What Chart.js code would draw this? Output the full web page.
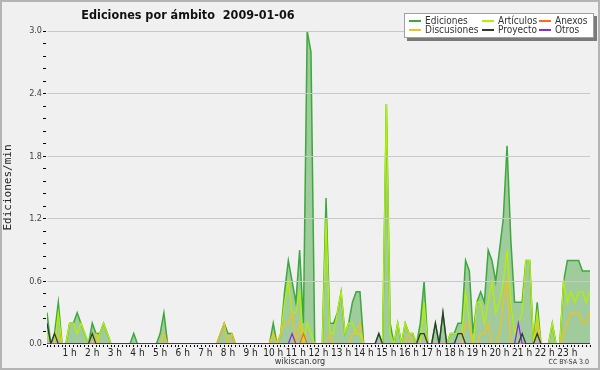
<!DOCTYPE html>
<html>
<head>
<meta charset="utf-8">
<script src="https://cdn.jsdelivr.net/npm/chart.js@4.4.1/dist/chart.umd.min.js"></script>
<style>
  html, body { margin: 0; padding: 0; background: #f0f0f0; }
  #marco { position: relative; width: 600px; height: 370px; overflow: hidden; }
  #grafico { position: absolute; left: 0; top: 0; display: block; }
  .cond { font-family: "DejaVu Sans Condensed", "Liberation Sans Narrow", "DejaVu Sans", sans-serif; }
  #titulo { position: absolute; left: 0; top: 7px; width: 376px; line-height: 16px; text-align: center;
            font-weight: bold; font-size: 12.5px; color: #111; white-space: pre; }
  #leyenda { position: absolute; left: 404px; top: 13px; width: 190px; height: 25px; box-sizing: border-box;
             background: #fff; border: 1px solid #a0a0a0; box-shadow: 3px 3px 0 #7a7a7a; }
  #leyenda .muestra { position: absolute; width: 12px; height: 2px; }
  #leyenda .nombre { position: absolute; font-size: 10px; line-height: 10px; color: #333; white-space: nowrap; }
  #fuente { position: absolute; left: 250px; width: 100px; top: 355px; line-height: 12px; text-align: center;
            font-size: 9px; color: #333; }
  #licencia { position: absolute; right: 11px; top: 358px; line-height: 8px; font-size: 7px; color: #333; }
  #borde { position: absolute; left: 0; top: 0; width: 600px; height: 370px; box-sizing: border-box;
           border: 2px solid #b4b4b4; pointer-events: none; }
</style>
</head>
<body>
<div id="marco">
  <canvas id="grafico" width="600" height="370"></canvas>
  <div id="titulo" class="cond">Ediciones por ámbito  2009-01-06</div>
  <div id="leyenda" class="cond"></div>
  <div id="fuente" class="cond">wikiscan.org</div>
  <div id="licencia" class="cond">CC BY-SA 3.0</div>
  <div id="borde"></div>
</div>
<script>
// one point every 10 minutes, 00:00 .. 24:00 (145 points), edits per minute
var ediciones = [
  .3, 0, .1, .4, 0, 0,      .2, .2, .3, .2, .1, 0,     .2, .1, .1, .2, .1, 0,
  0, 0, 0, 0, 0, .1,        0, 0, 0, 0, 0, 0,          .1, .3, 0, 0, 0, 0,
  0, 0, 0, 0, 0, 0,         0, 0, 0, 0, .1, .2,        .1, .1, 0, 0, 0, 0,
  0, 0, 0, 0, 0, 0,         .2, 0, .1, .5, .8, .6,     .4, .9, .2, 3.0, 2.8, 0,
  0, 0, 1.4, .2, .2, .3,    .5, .1, .2, .4, .5, .5,    0, 0, 0, 0, .1, 0,
  2.3, .2, 0, .2, 0, .2,    .1, .1, 0, .2, .6, 0,      0, .2, 0, .3, 0, .1,
  .1, .2, .2, .8, .7, .1,   .4, .5, .4, .9, .8, .6,    .9, 1.2, 1.9, 1.0, .4, .4,
  .4, .8, .8, 0, .4, 0,     0, 0, .2, 0, 0, .6,        .8, .8, .8, .8, .7, .7,
  .7
];
var articulos = [
  .1, 0, 0, .3, 0, 0,       .2, .2, .1, .2, .1, 0,     .1, 0, .1, .2, .1, 0,
  0, 0, 0, 0, 0, 0,         0, 0, 0, 0, 0, 0,          0, 0, 0, 0, 0, 0,
  0, 0, 0, 0, 0, 0,         0, 0, 0, 0, 0, 0,          0, 0, 0, 0, 0, 0,
  0, 0, 0, 0, 0, 0,         .1, 0, .1, .4, .6, .3,     .3, .5, 0, .2, .1, 0,
  0, 0, 1.2, .1, .1, .3,    .5, .1, .2, .2, .1, .1,    0, 0, 0, 0, 0, 0,
  2.3, .1, 0, .2, 0, .2,    .1, .1, 0, 0, .4, 0,       0, 0, 0, 0, 0, .1,
  .1, .1, .1, .5, .2, 0,    .4, .4, .2, .4, .6, .3,    .4, .6, .9, .4, .1, .2,
  .3, .8, .8, 0, .3, 0,     0, 0, .2, 0, 0, .6,        .4, .5, .4, .5, .5, .4,
  .5
];
var anexos = [
  0, 0, 0, 0, 0, 0,         0, 0, 0, 0, 0, 0,          0, 0, 0, 0, 0, 0,
  0, 0, 0, 0, 0, 0,         0, 0, 0, 0, 0, 0,          0, 0, 0, 0, 0, 0,
  0, 0, 0, 0, 0, 0,         0, 0, 0, 0, 0, 0,          0, 0, 0, 0, 0, 0,
  0, 0, 0, 0, 0, 0,         0, 0, 0, 0, 0, 0,          0, 0, .1, 0, 0, 0,
  0, 0, 0, 0, 0, 0,         0, 0, 0, 0, 0, 0,          0, 0, 0, 0, 0, 0,
  0, 0, 0, 0, 0, 0,         0, 0, 0, 0, 0, 0,          0, 0, 0, 0, 0, 0,
  0, 0, 0, 0, 0, 0,         0, 0, 0, 0, 0, 0,          0, 0, 0, 0, 0, 0,
  0, 0, 0, 0, 0, 0,         0, 0, 0, 0, 0, 0,          0, 0, 0, 0, 0, 0,
  0
];
var discusiones = [
  0, 0, 0, .1, 0, 0,        0, 0, 0, 0, 0, 0,          0, .1, 0, 0, 0, 0,
  0, 0, 0, 0, 0, 0,         0, 0, 0, 0, 0, 0,          0, .1, 0, 0, 0, 0,
  0, 0, 0, 0, 0, 0,         0, 0, 0, 0, .1, .2,        0, .1, 0, 0, 0, 0,
  0, 0, 0, 0, 0, 0,         .1, 0, .1, .2, .2, .3,     0, .2, 0, 0, 0, 0,
  0, 0, 0, .1, 0, 0,        0, 0, 0, .1, .1, .2,       0, 0, 0, 0, 0, 0,
  0, 0, 0, 0, 0, 0,         .1, 0, 0, .1, .1, 0,       0, 0, 0, 0, 0, 0,
  0, 0, 0, .2, .2, 0,       0, .1, .1, .2, 0, 0,       .1, .4, .6, 0, 0, 0,
  0, 0, 0, 0, .2, 0,        0, 0, 0, 0, 0, .1,         .2, .3, .3, .3, .2, .2,
  .3
];
var proyecto = [
  .2, 0, .1, 0, 0, 0,       0, 0, 0, 0, 0, 0,          .1, 0, 0, 0, 0, 0,
  0, 0, 0, 0, 0, 0,         0, 0, 0, 0, 0, 0,          0, 0, 0, 0, 0, 0,
  0, 0, 0, 0, 0, 0,         0, 0, 0, 0, 0, 0,          0, 0, 0, 0, 0, 0,
  0, 0, 0, 0, 0, 0,         0, 0, 0, 0, 0, 0,          0, 0, 0, 0, 0, 0,
  0, 0, 0, 0, 0, 0,         0, 0, 0, 0, 0, 0,          0, 0, 0, 0, .1, 0,
  0, 0, 0, 0, 0, 0,         0, 0, 0, .1, .1, 0,        0, .2, 0, .3, 0, 0,
  0, .1, .1, 0, 0, 0,       0, 0, 0, 0, 0, 0,          0, 0, 0, 0, 0, 0,
  .1, 0, 0, 0, .1, 0,       0, 0, 0, 0, 0, 0,          0, 0, 0, 0, 0, 0,
  0
];
var otros = [
  0, 0, 0, 0, 0, 0,         0, 0, 0, 0, 0, 0,          0, 0, 0, 0, 0, 0,
  0, 0, 0, 0, 0, 0,         0, 0, 0, 0, 0, 0,          0, 0, 0, 0, 0, 0,
  0, 0, 0, 0, 0, 0,         0, 0, 0, 0, 0, 0,          0, 0, 0, 0, 0, 0,
  0, 0, 0, 0, 0, 0,         0, 0, 0, 0, 0, .1,         0, 0, 0, 0, 0, 0,
  0, 0, 0, 0, 0, 0,         0, 0, 0, 0, 0, 0,          0, 0, 0, 0, 0, 0,
  0, 0, 0, 0, 0, 0,         0, 0, 0, 0, 0, 0,          0, 0, 0, 0, 0, 0,
  0, 0, 0, 0, 0, 0,         0, 0, 0, 0, 0, 0,          0, 0, 0, 0, 0, .2,
  0, 0, 0, 0, 0, 0,         0, 0, 0, 0, 0, 0,          0, 0, 0, 0, 0, 0,
  0
];
var tickLabels = ['1 h', '2 h', '3 h', '4 h', '5 h', '6 h', '7 h', '8 h', '9 h', '10 h', '11 h', '12 h',
                  '13 h', '14 h', '15 h', '16 h', '17 h', '18 h', '19 h', '20 h', '21 h', '22 h', '23 h'];

var narrow = '"DejaVu Sans Condensed", "Liberation Sans Narrow", "DejaVu Sans", sans-serif';

function puntos(arr) {
  return arr.map(function (v, i) { return { x: i, y: v }; });
}

function serie(label, arr, color, order) {
  return {
    label: label,
    data: puntos(arr),
    borderColor: color,
    backgroundColor: color,
    borderWidth: 1.3,
    fill: false,
    order: order
  };
}

var series = [
  {
    label: 'Ediciones',
    data: puntos(ediciones),
    borderColor: '#3ca93c',
    backgroundColor: '#9fcb9d',
    borderWidth: 1.5,
    fill: false,
    order: 10
  },
  serie('Artículos', articulos, '#b4f000', 5),
  serie('Anexos', anexos, '#ff6a20', 3),
  serie('Discusiones', discusiones, '#f2c21a', 4),
  serie('Proyecto', proyecto, '#2e3a2e', 1),
  serie('Otros', otros, '#8a2be2', 2)
];

// legend box: three columns, two rows
var leyenda = document.getElementById('leyenda');
var colX = [4, 77, 134];
var rowY = [6, 15];
series.forEach(function (ds, i) {
  var x = colX[i % 3], y = rowY[Math.floor(i / 3)];
  var m = document.createElement('div');
  m.className = 'muestra';
  m.style.left = x + 'px';
  m.style.top = y + 'px';
  m.style.backgroundColor = ds.borderColor;
  leyenda.appendChild(m);
  var n = document.createElement('div');
  n.className = 'nombre';
  n.style.left = (x + 16) + 'px';
  n.style.top = (y - 4) + 'px';
  n.textContent = ds.label;
  leyenda.appendChild(n);
});

// area under the total, from the points the line controller laid out
var areaTotal = {
  id: 'areaTotal',
  beforeDatasetsDraw: function (chart) {
    var ctx = chart.ctx;
    var pts = chart.getDatasetMeta(0).data;
    var base = chart.scales.y.getPixelForValue(0);
    ctx.save();
    ctx.globalAlpha = 1;
    ctx.globalCompositeOperation = 'source-over';
    ctx.beginPath();
    ctx.moveTo(pts[0].x, base);
    for (var i = 0; i < pts.length; i++) ctx.lineTo(pts[i].x, pts[i].y);
    ctx.lineTo(pts[pts.length - 1].x, base);
    ctx.closePath();
    ctx.fillStyle = '#9fcb9d';
    ctx.fill();
    ctx.restore();
  }
};

new Chart(document.getElementById('grafico'), {
  type: 'line',
  data: { datasets: series },
  options: {
    responsive: false,
    animation: false,
    layout: { padding: { top: 31, right: 10, left: 0, bottom: 0 } },
    elements: { point: { radius: 0 }, line: { tension: 0 } },
    plugins: {
      legend: { display: false },
      tooltip: { enabled: false },
      title: { display: false }
    },
    scales: {
      x: {
        type: 'linear',
        min: 0,
        max: 144,
        afterFit: function (s) { s.height = 26; },
        border: { color: '#000', width: 2 },
        grid: { z: 1, drawOnChartArea: false, tickLength: 3, tickColor: '#000', tickWidth: 1 },
        ticks: {
          stepSize: 1,
          autoSkip: false,
          maxRotation: 0,
          padding: 0,
          color: '#222',
          font: { family: narrow, size: 10 },
          callback: function (v) {
            return (v % 6 === 0 && v > 0 && v < 144) ? tickLabels[v / 6 - 1] : '';
          }
        }
      },
      y: {
        min: 0,
        max: 3,
        afterFit: function (s) { s.width = 47; },
        border: { color: '#000', width: 1.5 },
        grid: {
          z: 1,
          color: function (c) { return c.index % 5 === 0 && c.index > 0 ? '#c9c9c9' : 'rgba(0,0,0,0)'; },
          tickColor: '#000',
          tickLength: 4
        },
        ticks: {
          stepSize: 0.12,
          autoSkip: false,
          padding: 1,
          color: '#444',
          font: { family: narrow, size: 9 },
          callback: function (v, i) { return i % 5 === 0 ? v.toFixed(1) : ''; }
        },
        title: {
          display: true,
          text: 'Ediciones/min',
          color: '#222',
          font: { family: '"DejaVu Sans Mono", monospace', size: 11 },
          padding: { top: 2, bottom: 0 }
        }
      }
    }
  },
  plugins: [areaTotal]
});
</script>
</body>
</html>
